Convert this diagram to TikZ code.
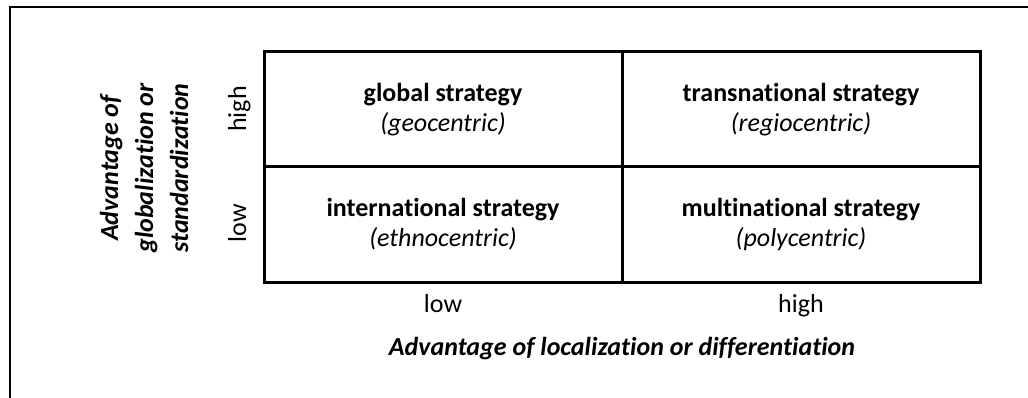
\documentclass[tikz,border=0pt]{standalone}
\usepackage{fontspec}
\setmainfont{Carlito}[Ligatures=NoCommon]
\usetikzlibrary{positioning}

\begin{document}
\begin{tikzpicture}[x=1pt, y=-1pt, font=\fontsize{26}{30}\selectfont,
  cell/.style={rectangle, draw, line width=3pt, minimum width=358pt, minimum height=115pt, align=center, inner sep=0pt},
  lvl/.style={inner sep=0pt, anchor=base},
  axis/.style={inner sep=0pt, align=center, font=\fontsize{26}{35}\selectfont\bfseries\itshape}]
      \useasboundingbox (0,0) rectangle (1028,398);
      \draw[line width=2pt] (9.5,398) -- (9.5,7.5) -- (1028,7.5);

      \node[cell] (gs) at (443,109.5) {\textbf{global strategy}\\\textit{(geocentric)}};
      \node[cell] (ts) [right=-3pt of gs] {\textbf{transnational strategy}\\\textit{(regiocentric)}};
      \node[cell] (is) [below=-3pt of gs] {\textbf{international strategy}\\\textit{(ethnocentric)}};
      \node[cell] (ms) [right=-3pt of is] {\textbf{multinational strategy}\\\textit{(polycentric)}};

      \node[lvl, rotate=90] (yhigh) at (246,109) {high};
      \node[lvl, rotate=90] (ylow) at (246,223) {low};
      \node[lvl] (xlow) at (443,312) {low};
      \node[lvl] (xhigh) at (801,312) {high};

      \node[axis, rotate=90] (yaxis) at (144,168) {Advantage of\\globalization or\\standardization};
      \node[axis, anchor=base] (xaxis) at (622,355) {Advantage of localization or differentiation};
    \end{tikzpicture}
\end{document}
